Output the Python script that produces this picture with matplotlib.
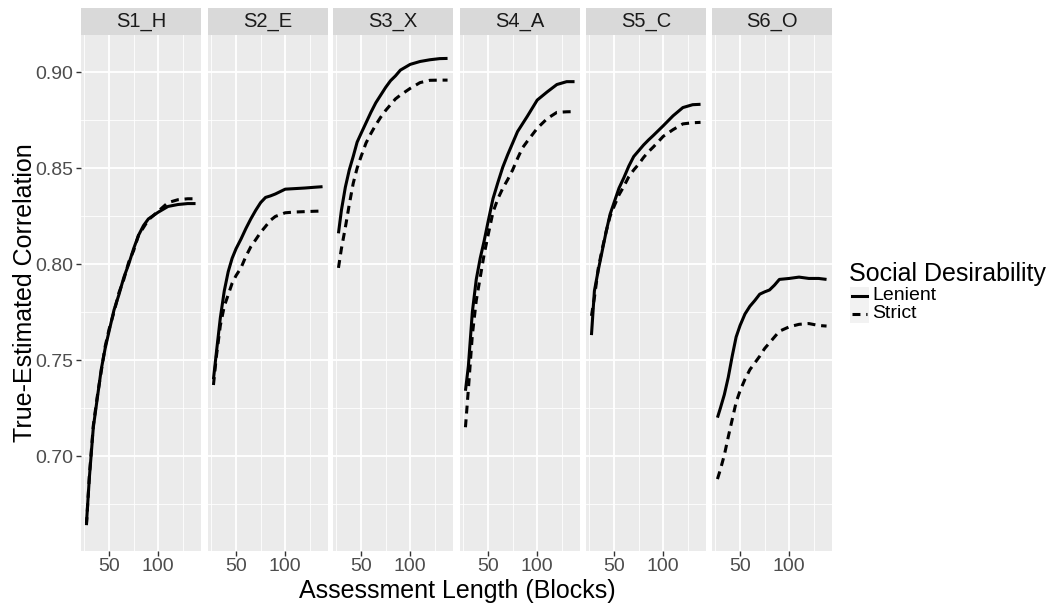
import matplotlib
matplotlib.use("Agg")
import matplotlib.pyplot as plt
from matplotlib.patches import Rectangle
from matplotlib.lines import Line2D

plt.rcParams['font.family'] = ['Liberation Sans', 'DejaVu Sans']

# assessment length (blocks)
blocks = [27, 30, 34, 38, 42, 46, 50, 55, 60, 65, 70, 75, 80, 85, 90, 100, 110, 120, 130, 138]

scales = ["S1_H", "S2_E", "S3_X", "S4_A", "S5_C", "S6_O"]

lenient = {
    "S1_H": [0.665, 0.689, 0.715, 0.730, 0.745, 0.756, 0.765, 0.776, 0.784, 0.793,
             0.800, 0.808, 0.815, 0.820, 0.8235, 0.827, 0.830, 0.831, 0.8315, 0.8315],
    "S2_E": [0.740, 0.754, 0.772, 0.786, 0.796, 0.803, 0.808, 0.813, 0.8185, 0.8235,
             0.828, 0.832, 0.8347, 0.8355, 0.8365, 0.839, 0.8393, 0.8396, 0.840, 0.8403],
    "S3_X": [0.816, 0.828, 0.840, 0.849, 0.856, 0.8635, 0.868, 0.8735, 0.879, 0.884,
             0.888, 0.892, 0.8955, 0.898, 0.901, 0.904, 0.9055, 0.9064, 0.907, 0.9071],
    "S4_A": [0.734, 0.747, 0.775, 0.792, 0.803, 0.812, 0.822, 0.834, 0.8425, 0.8505,
             0.857, 0.863, 0.869, 0.873, 0.877, 0.8854, 0.8896, 0.8935, 0.895, 0.895],
    "S5_C": [0.763, 0.786, 0.797, 0.807, 0.817, 0.826, 0.832, 0.8395, 0.845, 0.851,
             0.856, 0.859, 0.862, 0.8646, 0.867, 0.872, 0.8772, 0.8815, 0.883, 0.8832],
    "S6_O": [0.720, 0.725, 0.732, 0.741, 0.752, 0.762, 0.768, 0.774, 0.778, 0.781,
             0.7843, 0.7855, 0.7865, 0.789, 0.792, 0.7925, 0.7932, 0.7925, 0.7925, 0.792],
}

strict = {
    "S1_H": [0.664, 0.690, 0.716, 0.731, 0.744, 0.757, 0.766, 0.775, 0.785, 0.792,
             0.801, 0.807, 0.815, 0.819, 0.823, 0.8275, 0.832, 0.8335, 0.834, 0.834],
    "S2_E": [0.737, 0.752, 0.768, 0.778, 0.784, 0.790, 0.794, 0.798, 0.804, 0.809,
             0.8127, 0.8165, 0.8196, 0.8228, 0.8248, 0.8267, 0.8271, 0.8273, 0.8275, 0.8276],
    "S3_X": [0.798, 0.808, 0.819, 0.831, 0.842, 0.850, 0.856, 0.863, 0.868, 0.8725,
             0.8765, 0.880, 0.883, 0.886, 0.888, 0.8915, 0.8945, 0.8957, 0.8958, 0.8958],
    "S4_A": [0.715, 0.735, 0.763, 0.781, 0.793, 0.805, 0.815, 0.827, 0.834, 0.8395,
             0.844, 0.849, 0.855, 0.8605, 0.864, 0.8707, 0.8757, 0.879, 0.8793, 0.8794],
    "S5_C": [0.773, 0.7825, 0.798, 0.808, 0.817, 0.825, 0.830, 0.836, 0.8405, 0.8455,
             0.849, 0.852, 0.8555, 0.8585, 0.861, 0.8665, 0.870, 0.873, 0.8736, 0.8738],
    "S6_O": [0.688, 0.693, 0.7005, 0.710, 0.719, 0.728, 0.734, 0.740, 0.745, 0.7485,
             0.752, 0.756, 0.759, 0.762, 0.765, 0.7673, 0.7686, 0.769, 0.768, 0.7677],
}

W, H = 1059, 610
fig = plt.figure(figsize=(W / 100, H / 100), dpi=100)

panel_left = [81, 208, 333, 460, 586, 712]
panel_w = 120
panel_top, panel_bot = 35, 550.5
strip_top = 8

bg = "#EBEBEB"
tick_col = "#4D4D4D"
dash = (0, (2.6, 1.9))

for i, s in enumerate(scales):
    ax = fig.add_axes([panel_left[i] / W, (H - panel_bot) / H,
                       panel_w / W, (panel_bot - panel_top) / H])
    ax.set_facecolor(bg)
    ax.set_xlim(21.45, 143.55)
    ax.set_ylim(0.6508, 0.9193)
    ax.set_xticks([50, 100])
    ax.set_xticks([25, 75, 125], minor=True)
    ax.set_yticks([0.70, 0.75, 0.80, 0.85, 0.90])
    ax.set_yticks([0.675, 0.725, 0.775, 0.825, 0.875], minor=True)
    ax.grid(True, which="major", color="white", lw=1.3)
    ax.grid(True, which="minor", color="white", lw=0.6)
    ax.set_axisbelow(True)
    for sp in ax.spines.values():
        sp.set_visible(False)
    ax.tick_params(which="major", length=3.5, width=1, color="#333333",
                   labelsize=14, labelcolor=tick_col, pad=2)
    ax.tick_params(which="minor", length=0)
    ax.set_xticklabels(["50", "100"])
    if i == 0:
        ax.set_yticklabels(["0.70", "0.75", "0.80", "0.85", "0.90"])
    else:
        ax.tick_params(axis="y", which="major", length=0, labelleft=False)

    ax.plot(blocks, lenient[s], color="black", lw=2.2, solid_capstyle="butt")
    ax.plot(blocks, strict[s], color="black", lw=2.2, linestyle=dash)

    # facet strip
    fig.patches.append(Rectangle((panel_left[i] / W, (H - panel_top) / H),
                                 panel_w / W, (panel_top - strip_top) / H,
                                 transform=fig.transFigure, facecolor="#D9D9D9",
                                 edgecolor="none"))
    fig.text((panel_left[i] + panel_w / 2) / W, (H - (panel_top + strip_top) / 2) / H,
             s, ha="center", va="center", fontsize=14.5, color="#1A1A1A")

fig.text(457 / W, (H - 591) / H, "Assessment Length (Blocks)", ha="center",
         va="center", fontsize=18)
fig.text(25 / W, (H - 293) / H, "True-Estimated Correlation", ha="center",
         va="center", rotation=90, fontsize=18)

# legend
fig.text(849 / W, (H - 274) / H, "Social Desirability", ha="left", va="center",
         fontsize=18)
for j, (lab, ls) in enumerate([("Lenient", "-"), ("Strict", dash)]):
    yc = 296 + j * 18
    fig.patches.append(Rectangle((850 / W, (H - yc - 9) / H), 19 / W, 18 / H,
                                 transform=fig.transFigure, facecolor="#F2F2F2",
                                 edgecolor="none"))
    fig.lines.append(Line2D([852 / W, 867 / W], [(H - yc) / H, (H - yc) / H],
                            transform=fig.transFigure, color="black", lw=2.2,
                            linestyle=ls))
    fig.text(872 / W, (H - yc) / H, lab, ha="left", va="center", fontsize=14)

fig.savefig("out.png", dpi=100)
